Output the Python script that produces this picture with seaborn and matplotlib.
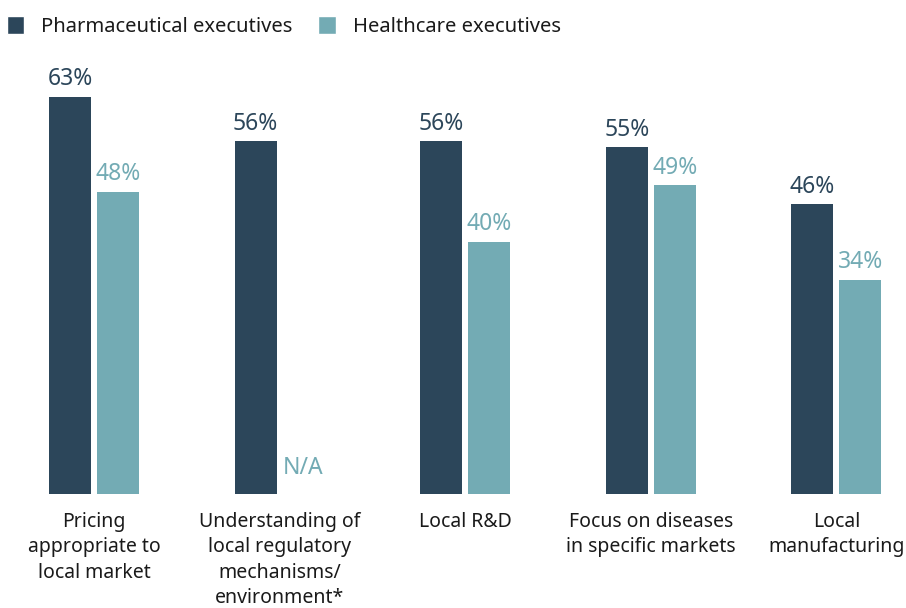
#!/usr/bin/env python3

import numpy as np
import pandas as pd
import matplotlib
matplotlib.use("Agg")
import matplotlib.pyplot as plt
from matplotlib.patches import Patch
import seaborn as sns

# Chart data
categories = [
    "Pricing\nappropriate to\nlocal market",
    "Understanding of\nlocal regulatory\nmechanisms/\nenvironment*",
    "Local R&D",
    "Focus on diseases\nin specific markets",
    "Local\nmanufacturing",
]
pharma = [63, 56, 56, 55, 46]
healthcare = [48, np.nan, 40, 49, 34]
series = ["Pharmaceutical executives", "Healthcare executives"]

DARK = "#2c465a"
TEAL = "#73abb4"
TEXT = "#1a1a1a"

sns.set_style("white")
plt.rcParams["font.family"] = ["Noto Sans", "DejaVu Sans"]

df = pd.DataFrame({
    "category": categories * 2,
    "value": pharma + healthcare,
    "group": [series[0]] * len(categories) + [series[1]] * len(categories),
})

fig = plt.figure(figsize=(9.06, 6.08), dpi=100)
ax = fig.add_axes([0, 114 / 608, 1, 494 / 608])

sns.barplot(
    data=df, x="category", y="value", hue="group", order=categories,
    hue_order=series, palette=[DARK, TEAL], width=0.517, gap=0.126,
    saturation=1, errorbar=None, ax=ax, legend=False, linewidth=0,
)

ax.set_xlim(-0.506, 4.375)
ax.set_ylim(0, 78.4)
ax.set_xlabel("")
ax.set_ylabel("")
ax.set_yticks([])
for spine in ax.spines.values():
    spine.set_visible(False)
ax.tick_params(axis="x", length=0, pad=13, labelsize=14, labelcolor=TEXT)
for lbl in ax.get_xticklabels():
    lbl.set_linespacing(1.36)

# value labels
for cont, color in zip(ax.containers, [DARK, TEAL]):
    for p in cont.patches:
        h = p.get_height()
        if np.isnan(h):
            continue
        ax.annotate(f"{h:.0f}%", (p.get_x() + p.get_width() / 2, h),
                    xytext=(0, 4), textcoords="offset points",
                    ha="center", va="bottom", fontsize=16.5, color=color)

# N/A label for missing healthcare value
dark_bars = ax.containers[0].patches
teal_bars = ax.containers[1].patches
shift = teal_bars[0].get_x() - dark_bars[0].get_x()
na_x = dark_bars[1].get_x() + shift + dark_bars[1].get_width() / 2
ax.annotate("N/A", (na_x, 0), xytext=(0, 10), textcoords="offset points",
            ha="center", va="bottom", fontsize=16.5, color=TEAL)

# legend
handles = [Patch(facecolor=DARK), Patch(facecolor=TEAL)]
fig.legend(handles, series, loc="upper left", bbox_to_anchor=(-0.006, 0.993),
           ncol=2, frameon=False, fontsize=14.5, handlelength=0.85,
           handleheight=1.0, handletextpad=0.85, columnspacing=1.3,
           borderaxespad=0.2, labelcolor=TEXT)

fig.savefig("out.png", dpi=100)
